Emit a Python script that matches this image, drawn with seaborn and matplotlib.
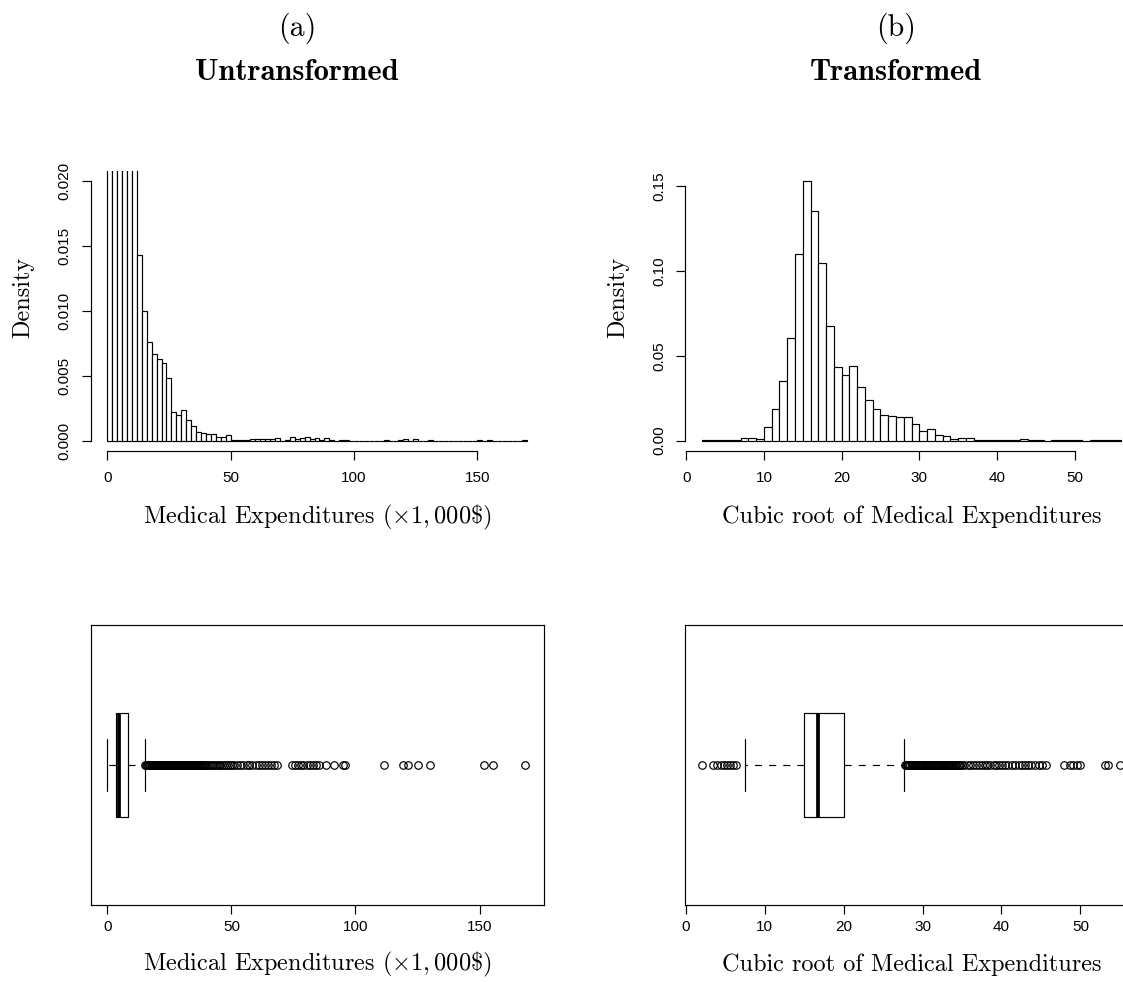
import numpy as np
import pandas as pd
import matplotlib
matplotlib.use("Agg")
import matplotlib.pyplot as plt
import seaborn as sns

# ---- data ----
# (a) histogram of medical expenditures (x1,000$), bins of width 2 from 0 to 170
raw_edges = list(range(0, 172, 2))
raw_density = [
    0.028, 0.159, 0.135, 0.050, 0.031, 0.024,
    0.0143, 0.0100, 0.0076, 0.0067, 0.0063, 0.0060, 0.0048, 0.0022, 0.0020, 0.0024,
    0.0016, 0.0011, 0.0007, 0.0006, 0.0005, 0.0005, 0.0003, 0.0003, 0.0004,
    0.00005, 0.00005, 0.00005, 0.00005, 0.0001, 0.0001, 0.0001, 0.0001, 0.0001, 0.0002,
    0.0, 0.00005, 0.00025, 0.0001, 0.0002, 0.00025, 0.00015, 0.0002, 0.00005, 0.0002,
    0.00005, 0.0, 0.00005, 0.00005, 0.0, 0.0, 0.0, 0.0, 0.0, 0.0,
    0.0, 0.00005, 0.0, 0.0, 0.00005, 0.0001, 0.0, 0.0001, 0.0, 0.0,
    0.00005, 0.0, 0.0, 0.0, 0.0, 0.0, 0.0, 0.0, 0.0, 0.0,
    0.00005, 0.0, 0.00005, 0.0, 0.0, 0.0, 0.0, 0.0, 0.0, 0.00005,
]

# (b) histogram of cubic root, bins of width 1 from 2 to 56
cub_edges = list(range(2, 57))
cub_density = [
    0.0002, 0.0003, 0.0005, 0.0004, 0.0002, 0.0014, 0.0018, 0.0012,
    0.0082, 0.0185, 0.035, 0.0606, 0.1104, 0.153, 0.1354, 0.1047, 0.0679, 0.0435,
    0.0388, 0.0439, 0.0317, 0.024, 0.0189, 0.0154, 0.0146, 0.0142, 0.0142, 0.0100,
    0.0055, 0.0069, 0.0035, 0.0025, 0.0012, 0.0016, 0.0014, 0.0003, 0.0002, 0.0003,
    0.0005, 0.0003, 0.0006, 0.0010, 0.0004, 0.0002, 0.0, 0.0001, 0.0002, 0.0002,
    0.0001, 0.0, 0.0001, 0.0002, 0.0001, 0.0001,
]

# boxplot summaries
raw_box = dict(whislo=0.0, q1=3.6, med=4.6, q3=8.3, whishi=15.3)
cub_box = dict(whislo=7.5, q1=15.0, med=16.7, q3=20.1, whishi=27.7)

raw_outliers = [
    15.4, 15.7, 16.1, 16.6, 16.9, 17.3, 17.8, 18.1, 18.6, 19.0, 19.3, 19.8, 20.2,
    20.5, 21.0, 21.4, 21.7, 22.2, 22.6, 22.9, 23.4, 23.8, 24.1, 24.6, 25.0, 25.3,
    25.8, 26.2, 26.5, 27.0, 27.4, 27.7, 28.2, 28.6, 28.9, 29.4, 29.8, 30.1, 30.6,
    31.0, 31.3, 31.8, 32.2, 32.5, 33.0, 33.4, 33.7, 34.2, 34.6, 34.9, 35.4, 35.8,
    36.1, 36.6, 37.0, 37.3, 37.8, 38.2, 38.5, 39.0, 39.4, 39.8,
    40.5, 41.3, 42.0, 42.6, 43.5, 44.1, 44.9, 45.6, 46.4, 47.0, 47.9, 48.6, 49.5,
    50.3, 51.1, 52.2, 53.6, 54.7, 56.1, 57.3, 58.4, 59.8, 61.0, 62.3, 63.4, 64.8,
    66.0, 67.2, 68.5, 74.5, 75.6, 76.9, 78.1, 79.0, 80.4, 81.6, 82.7, 84.0, 85.5,
    88.2, 91.4, 94.8, 95.9, 111.5, 119.0, 121.0, 125.0, 130.1, 151.7, 155.3, 168.5,
]
cub_outliers = [
    2.1, 3.5, 3.9, 4.4, 4.8, 5.2, 5.6, 6.0, 6.4,
    27.8, 27.9, 28.05, 28.2, 28.3, 28.45, 28.6, 28.7, 28.85, 29.0, 29.1, 29.25,
    29.4, 29.5, 29.65, 29.8, 29.9, 30.05, 30.2, 30.3, 30.45, 30.6, 30.7, 30.85,
    31.0, 31.1, 31.25, 31.4, 31.5, 31.65, 31.8, 31.9, 32.05, 32.2, 32.3, 32.45,
    32.6, 32.7, 32.85, 33.0, 33.1, 33.25, 33.4, 33.5, 33.65, 33.8, 33.9, 34.05,
    34.2, 34.3, 34.45, 34.6, 34.7,
    35.0, 35.3, 35.7, 36.0, 36.4, 36.8, 37.1, 37.5, 37.9, 38.2, 38.6, 39.0, 39.3,
    39.7, 40.1, 40.5, 40.8, 41.3, 41.7, 42.2, 42.6, 43.0, 43.4, 43.8, 44.3, 44.7,
    45.1, 45.6, 47.9, 48.7, 49.1, 49.6, 50.0, 53.1, 53.5, 55.0,
]

raw_xticks = [0, 50, 100, 150]
cub_xticks = [0, 10, 20, 30, 40, 50]
raw_yticks = [0.0, 0.005, 0.010, 0.015, 0.020]
raw_ylabels = ["0.000", "0.005", "0.010", "0.015", "0.020"]
cub_yticks = [0.0, 0.05, 0.10, 0.15]
cub_ylabels = ["0.00", "0.05", "0.10", "0.15"]

raw_label = r"Medical Expenditures $(\times1,000\$)$"
cub_label = "Cubic root of Medical Expenditures"

# ---- style ----
sns.set_style("ticks", {"axes.edgecolor": "black", "xtick.color": "black",
                        "ytick.color": "black", "text.color": "black",
                        "axes.labelcolor": "black"})
plt.rcParams["font.family"] = ["Liberation Sans", "DejaVu Sans"]
plt.rcParams["mathtext.fontset"] = "cm"
plt.rcParams["axes.linewidth"] = 0.85

LW = 0.85
SERIF = "cmr10"

fig = plt.figure(figsize=(11.23, 9.82), dpi=100)
W, H = 1123, 982


def px_axes(left, top, width, height):
    return fig.add_axes([left / W, 1 - (top + height) / H, width / W, height / H])


ax_h1 = px_axes(90.5, 171, 453, 280)
ax_h2 = px_axes(685, 171, 453, 280)
ax_b1 = px_axes(90.5, 625, 453, 280)
ax_b2 = px_axes(685, 625, 453, 280)


def draw_hist(ax, edges, dens, xlim, ylim, xticks, yticks, ylabels, xlabel):
    lo = np.asarray(edges[:-1], dtype=float)
    hi = np.asarray(edges[1:], dtype=float)
    df = pd.DataFrame({"x": (lo + hi) / 2, "w": dens})
    sns.histplot(data=df, x="x", weights="w", bins=list(edges), stat="count", ax=ax,
                 color="white", edgecolor="black", linewidth=LW, alpha=1)
    ax.set_xlim(*xlim)
    ax.set_ylim(*ylim)
    sns.despine(ax=ax)
    ax.spines["left"].set_bounds(yticks[0], yticks[-1])
    ax.spines["bottom"].set_bounds(xticks[0], xticks[-1])
    ax.set_xticks(xticks)
    ax.set_yticks(yticks)
    ax.set_yticklabels(ylabels)
    for lab in ax.get_yticklabels():
        lab.set_rotation(90)
        lab.set_va("center")
    ax.tick_params(axis="x", length=6.5, width=LW, labelsize=11, pad=8)
    ax.tick_params(axis="y", length=6.5, width=LW, labelsize=11, pad=7)
    ax.set_ylabel("Density", fontfamily=SERIF, fontsize=17.5)
    ax.yaxis.set_label_coords(-0.148, 0.55)
    ax.yaxis.label.set_va("center")
    ax.set_xlabel(xlabel, fontfamily=SERIF, fontsize=17.5)
    ax.xaxis.set_label_coords(0.5, -0.236)
    ax.xaxis.label.set_va("center")


def draw_box(ax, box, fliers, xlim, xticks, xlabel):
    stats = [dict(box, fliers=np.asarray(fliers))]
    kw = dict(positions=[0.5], widths=0.371, manage_ticks=False,
              boxprops=dict(color="black", linewidth=LW),
              medianprops=dict(color="black", linewidth=2.7, solid_capstyle="butt"),
              whiskerprops=dict(color="black", linewidth=LW, linestyle=(0, (6, 6))),
              capprops=dict(color="black", linewidth=LW),
              flierprops=dict(marker="o", markerfacecolor="none", markeredgecolor="black",
                              markersize=5.4, markeredgewidth=LW, linestyle="none"))
    try:
        ax.bxp(stats, orientation="horizontal", **kw)
    except TypeError:
        ax.bxp(stats, vert=False, **kw)
    ax.set_xlim(*xlim)
    ax.set_ylim(0, 1)
    ax.set_yticks([])
    ax.set_xticks(xticks)
    ax.tick_params(axis="x", length=6.5, width=LW, labelsize=11, pad=4)
    ax.set_xlabel(xlabel, fontfamily=SERIF, fontsize=17.5)
    ax.xaxis.set_label_coords(0.5, -0.214)
    ax.xaxis.label.set_va("center")


draw_hist(ax_h1, raw_edges, raw_density, (-6.8, 176.8), (-0.0008, 0.0208),
          raw_xticks, raw_yticks, raw_ylabels, raw_label)
draw_hist(ax_h2, cub_edges, cub_density, (-0.16, 58.16), (-0.00612, 0.15912),
          cub_xticks, cub_yticks, cub_ylabels, cub_label)
draw_box(ax_b1, raw_box, raw_outliers, (-6.76, 175.76), raw_xticks, raw_label)
draw_box(ax_b2, cub_box, cub_outliers, (-0.1, 57.3), cub_xticks, cub_label)

# column headings
for xc, tag, name in [(297, "(a)", "Untransformed"), (896, "(b)", "Transformed")]:
    fig.text(xc / W, 1 - 28 / H, tag, ha="center", va="center",
             fontfamily=SERIF, fontsize=21.5)
    fig.text(xc / W, 1 - 72 / H, name, ha="center", va="center",
             fontfamily="cmb10", fontsize=22)

fig.savefig("out.png", dpi=100)
